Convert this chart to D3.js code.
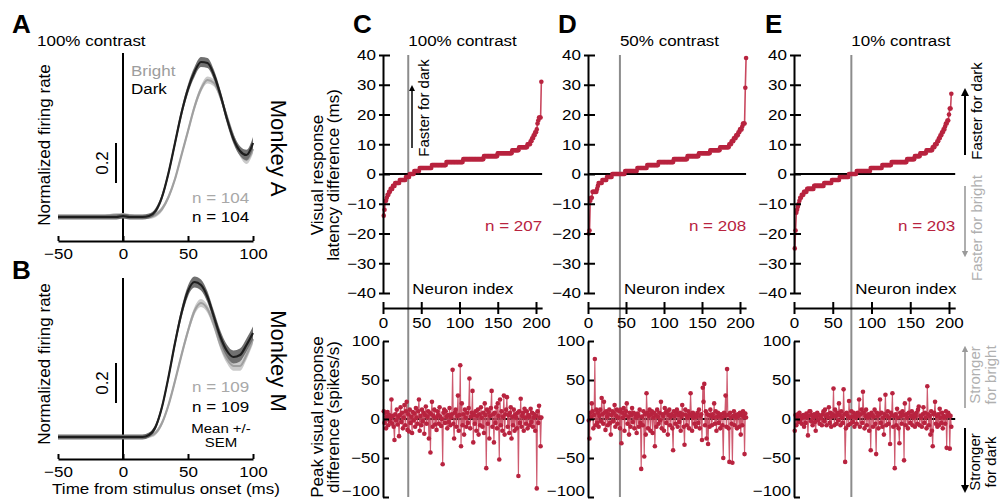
<!DOCTYPE html>
<html><head><meta charset="utf-8">
<script src="https://cdn.jsdelivr.net/npm/d3@7"></script>
<style>body{margin:0;background:#fff} svg{display:block;background:#fff} text{font-family:'Liberation Sans',Arial,Helvetica,sans-serif}</style>
</head><body><svg id="c" width="1000" height="502"></svg>
<script>
// ---------- DATA ----------
const timeMs = [-50,-45,-40,-35,-30,-25,-20,-15,-10,-5,0,5,10,15,20,25,30,35,40,45,50,55,60,65,70,75,80,85,90,95,100];
const darkA   = [0,0,0,0,0,0,0,0,0,0,0.005,0,0, 0,0.005,0.03,0.1,0.22,0.37,0.52,0.64,0.725,0.775,0.77,0.71,0.61,0.49,0.39,0.33,0.31,0.37];
const brightA = [0,0,0,0,0,0,0,0,0.005,0.01,0.01,0.005,0, 0,0,0.01,0.04,0.1,0.19,0.31,0.43,0.55,0.64,0.685,0.67,0.6,0.5,0.4,0.32,0.285,0.34];
const semDarkA   = [0.012,0.012,0.012,0.012,0.012,0.012,0.012,0.012,0.012,0.012,0.012,0.012,0.012,0.012,0.012,0.014,0.016,0.018,0.02,0.022,0.024,0.025,0.025,0.025,0.025,0.024,0.024,0.024,0.024,0.026,0.03];
const semBrightA = [0.01,0.01,0.01,0.01,0.01,0.01,0.01,0.01,0.01,0.01,0.01,0.01,0.01,0.01,0.01,0.011,0.012,0.013,0.014,0.015,0.016,0.017,0.017,0.017,0.017,0.017,0.017,0.017,0.018,0.02,0.022];
const darkB   = [0,0,0,0,0,0,0,0,0,0,0,0,0, 0,0.01,0.05,0.15,0.3,0.47,0.62,0.73,0.775,0.76,0.7,0.6,0.5,0.43,0.4,0.41,0.46,0.52];
const brightB = [0,0,0,0,0,0,0,0,0,0,0,0,0, 0,0.005,0.02,0.07,0.16,0.28,0.41,0.53,0.63,0.67,0.64,0.56,0.46,0.39,0.355,0.355,0.41,0.49];
const semDarkB   = [0.012,0.012,0.012,0.012,0.012,0.012,0.012,0.012,0.012,0.012,0.012,0.012,0.012,0.012,0.012,0.014,0.016,0.019,0.022,0.025,0.027,0.028,0.028,0.028,0.029,0.03,0.031,0.032,0.032,0.032,0.033];
const semBrightB = [0.01,0.01,0.01,0.01,0.01,0.01,0.01,0.01,0.01,0.01,0.01,0.01,0.01,0.01,0.01,0.011,0.012,0.014,0.016,0.018,0.019,0.02,0.02,0.02,0.021,0.022,0.023,0.024,0.024,0.024,0.025];
const timeTicks = [-50,0,50,100];

// sorted latency differences (dark minus bright), ms
const latency100 = [-14,-12,-9,-9,-8,-7,-7,-6,-6,-5,-5,-5,-4,-4,-4,-3,-3,-3,-3,-3,-3,
 -2,-2,-2,-2,-2,-2,-2,-2, -1,-1,-1,-1,-1, 0,0,0,0,0,0, 1,1,1,1,1,1,1,
 2,2,2,2,2, 2,2,2,2,2, 2,2,2,2,2, 2,
 3,3,3,3,3, 3,3,3,3,3, 3,3,3,3,3, 3,3,3,3,
 4,4,4,4,4, 4,4,4,4,4, 4,4,4,4,4, 4,4,4,4,4, 4,4,
 5,5,5,5,5, 5,5,5,5,5, 5,5,5,5,5, 5,5,5,5,5, 5,5,5,5,5, 5,5,
 6,6,6,6,6, 6,6,6,6,6, 6,6,6,6,6, 6,6,6,
 7,7,7,7,7, 7,7,7,7,7, 7,7,7,7,7, 7,7,7,7,
 8,8,8,8,8, 8,8,8,8,
 9,9,9,9,9, 9,9,9,9,9, 9,
 10,10,10,10, 11,11,12,12,13,13,14,14,15,17,18,19,19,19,31];
const latency50 = [-20,-19,-9,-8,-8,-6,-6,-6,-6,-6,-6,-5,-4,-3,-3,-3,-3,-3,
 -2,-2,-2,-2,-2,-2, -1,-1,-1,-1,-1,-1,-1,
 0,0,0,0,0, 0,0,0,0,0, 0,0,0,0,0, 0,0,
 1,1,1,1,1, 1,1,1,1,1, 1,1,1,1,1, 1,
 2,2,2,2,2, 2,2,2,2,2, 2,2,2,
 3,3,3,3,3, 3,3,3,3,3, 3,3,3,3,3,
 4,4,4,4,4, 4,4,4,4,4, 4,4,4,4,4, 4,4,4,4,4,
 5,5,5,5,5, 5,5,5,5,5, 5,5,5,5,5, 5,5,5,
 6,6,6,6,6, 6,6,6,6,6, 6,6,6,6,6,
 7,7,7,7,7, 7,7,7,7,7, 7,7,7,7,7,
 8,8,8,8,8, 8,8,8,8,8, 8,8,8,
 9,9,9,9,9, 9,9,9,9,9, 9,9,
 10,10,10,11,11,11,12,12,12,13,13,13,14,14,15,15,15,16,17,17,17,29,39];
const latency10 = [-25,-19,-13,-12,-11,-10,-9,-8,-8,-7,-7,-7,-6,-6,-6,-6,
 -5,-5,-5,-5,-5, -5,-5,-5,-5,
 -4,-4,-4,-4,-4, -4,-4,-4,-4,-4, -4,-4,-4,
 -3,-3,-3,-3,-3, -3,-3,-3,-3,-3,
 -2,-2,-2,-2,-2, -2,-2,-2,-2,-2,
 -1,-1,-1,-1,-1, -1,-1,-1,-1,-1, -1,-1,
 0,0,0,0,0, 0,0,0,0,0,
 1,1,1,1,1, 1,1,1,1,1, 1,1,1,1,1, 1,1,1,
 2,2,2,2,2, 2,2,2,2,2, 2,2,2,2,2,
 3,3,3,3,3, 3,3,3,3,3, 3,3,
 4,4,4,4,4, 4,4,4,4,4, 4,4,4,4,4, 4,4,4,4,4,
 5,5,5,5,5, 5,5,5,5,5,
 6,6,6,6,6, 6,6,
 7,7,7,7,7, 7,7,7,
 8,8,8,8,8, 8,8,8,
 9,9,9,10,10,10,11,11,12,12,13,13,14,14,15,15,16,17,17,18,18,20,22,22,27];

// peak visual response difference (spikes/s), same neuron order
const peak100 = [10,-5,8,-12,3,9,-8,5,-3,2,25,-6,4,-10,-27,6,-2,12,-7,3,
 -22,5,15,-4,8,-12,2,18,-8,10,22,-14,6,-16,12,-5,3,-18,9,-2,
 7,-10,14,2,-6,10,25,-15,4,-8,12,-3,8,-19,5,16,-6,3,10,-25,
 8,-43,6,22,-10,4,12,-7,2,-14,10,5,-6,15,3,-9,0,-58,8,12,
 -5,10,3,-12,5,-4,14,-8,2,6,63,-6,-25,8,12,-10,4,30,-15,5,
 69,-35,20,-8,6,-20,12,2,-10,8,-5,14,52,-12,3,8,36,-30,5,-6,
 10,-15,4,12,-20,6,-8,15,2,-10,8,-18,20,5,-63,12,-6,9,-25,4,
 14,36,-10,6,-30,8,-5,15,-12,20,4,-52,25,-8,10,-15,3,30,-20,6,
 12,28,-10,5,-18,8,15,-25,3,-8,12,-15,6,2,-12,8,-73,10,-5,26,
 -10,4,8,-15,13,2,-6,10,-12,5,3,-8,13,-4,8,-10,2,6,-15,4,
 -89,10,-5,17,2,-35,2];
const peak50 = [-2,-25,8,3,20,10,-12,5,77,-8,12,-5,8,-10,4,12,-3,27,6,-6,
 22,8,-14,10,3,-8,6,12,-5,-20,5,10,-3,8,18,-10,4,12,-6,2,
 10,-12,12,-31,8,2,14,-15,5,10,20,-6,3,-20,8,-10,5,14,-4,8,
 -12,6,2,-18,7,4,-10,12,-5,-64,3,-8,10,-48,6,-20,33,8,-12,4,
 12,-15,6,10,-18,2,8,-35,5,-10,12,3,-6,8,-2,22,-12,6,4,-15,
 14,8,-5,10,-20,5,12,-8,3,6,-12,-40,10,4,-6,8,12,-10,5,-4,
 8,-15,3,18,6,-10,-33,12,5,-8,2,10,-12,6,33,4,-15,8,2,-6,
 5,-10,3,8,-5,12,-12,4,6,-27,40,22,45,-8,10,-25,6,-32,5,-10,
 12,4,-8,6,2,20,-6,10,-15,3,8,-5,4,-12,6,2,-8,-50,8,4,
 30,-10,64,5,-12,-55,8,2,-6,-56,4,10,-8,5,2,-12,6,4,-10,8,
 -20,5,-8,10,3,-45,7,2];
const peak10 = [-15,5,-8,3,6,-4,8,-2,4,-6,2,5,-10,3,-5,7,2,-21,4,10,
 10,-3,5,-8,2,6,-4,-15,3,8,-2,5,-6,4,1,-8,6,10,-3,12,
 4,-8,6,2,15,-5,8,-10,3,6,39,-8,12,4,-6,8,-2,20,5,-8,
 10,2,-5,38,6,-55,-12,8,4,-8,23,2,-6,10,3,-4,8,-10,5,2,
 -6,8,4,25,-10,6,12,-5,35,8,-12,4,12,-8,2,6,-15,4,-40,8,
 5,-10,3,12,-6,-45,8,4,-12,6,25,-5,8,-10,2,-20,6,31,-8,4,
 10,-6,2,-32,8,5,33,-10,4,-63,6,-8,13,2,-12,-31,8,4,-6,10,
 5,-53,20,-8,6,2,-12,8,25,-5,4,10,-8,2,6,-10,4,8,-6,12,
 16,-8,4,2,-10,6,15,-5,8,2,-12,42,6,-8,4,-20,10,-15,-35,6,
 8,22,-6,4,-10,6,-8,13,2,-5,8,-12,4,2,-6,10,-37,4,8,5,
 -38,4,-10];

const latTicks = [-40,-30,-20,-10,0,10,20,30,40];
const peakTicks = [-100,-50,0,50,100];
const indexTicks = [0,50,100,150,200];
const medianIndex = [33, 42, 74];

// ---------- DRAWING ----------
const svg = d3.select("#c");
const SQ = 0.88;
const RED = "#b8233f", RED_LINE = "#c9485f", GRAY_LINE = "#8c8c8c";

function htext(x, y, str, o = {}) {
  const t = svg.append("text")
    .attr("transform", `translate(${x},${y}) scale(1,${o.sq ?? SQ})`)
    .attr("font-size", o.size || 17)
    .attr("text-anchor", o.anchor || "start")
    .attr("fill", o.fill || "#000")
    .text(str);
  if (o.weight) t.attr("font-weight", o.weight);
  return t;
}
function vtext(x, y, lines, o = {}) {
  const t = svg.append("text")
    .attr("transform", `translate(${x},${y}) rotate(${o.rot ?? -90})`)
    .attr("font-size", o.size || 17)
    .attr("text-anchor", "middle")
    .attr("fill", o.fill || "#000");
  lines.forEach((s, i) => t.append("tspan").attr("x", 0).attr("y", i * (o.lh || 16)).text(s));
  return t;
}
function squishTicks(g) {
  g.selectAll(".tick text").each(function () {
    const t = d3.select(this);
    const xx = +t.attr("x") || 0, yy = +t.attr("y") || 0;
    t.attr("x", 0).attr("y", 0).attr("transform", `translate(${xx},${yy}) scale(1,${SQ})`);
  });
}
function styleAxis(g, size) {
  g.selectAll("path.domain").attr("stroke", "#000").attr("stroke-width", 2);
  g.selectAll(".tick line").attr("stroke", "#000").attr("stroke-width", 2);
  g.selectAll(".tick text").attr("font-size", size || 17).attr("fill", "#000")
    .attr("font-family", "'Liberation Sans',Arial,sans-serif");
  squishTicks(g);
}

// defs arrows
const defs = svg.append("defs");
function marker(id, color) {
  defs.append("marker").attr("id", id).attr("viewBox", "0 0 10 10").attr("refX", 5).attr("refY", 5)
    .attr("markerWidth", 4).attr("markerHeight", 5).attr("orient", "auto-start-reverse")
    .attr("markerUnits", "strokeWidth")
    .append("path").attr("d", "M0,0 L10,5 L0,10 z").attr("fill", color);
}
marker("arrK", "#000"); marker("arrG", "#9a9a9a");

// ---- Panels A & B ----
function tracePanel(yBase, axisY, lineTop, dark, bright, semD, semB) {
  const x = d3.scaleLinear().domain([-50, 100]).range([58, 253]);
  const y = d3.scaleLinear().domain([0, 1]).range([yBase, yBase - 200]);
  svg.append("line").attr("x1", x(0)).attr("x2", x(0)).attr("y1", lineTop).attr("y2", axisY)
    .attr("stroke", "#000").attr("stroke-width", 2);
  const band = (vals, sem) => d3.area().curve(d3.curveMonotoneX)
    .x((d, i) => x(timeMs[i])).y0((d, i) => y(vals[i] - sem[i])).y1((d, i) => y(vals[i] + sem[i]))(vals);
  const line = vals => d3.line().curve(d3.curveMonotoneX).x((d, i) => x(timeMs[i])).y(d => y(d))(vals);
  svg.append("path").attr("d", band(bright, semB)).attr("fill", "#cbcbcb");
  svg.append("path").attr("d", line(bright)).attr("fill", "none").attr("stroke", "#a0a0a0").attr("stroke-width", 2.2);
  svg.append("path").attr("d", band(dark, semD)).attr("fill", "#707070");
  svg.append("path").attr("d", line(dark)).attr("fill", "none").attr("stroke", "#1e1e1e").attr("stroke-width", 2.2);
  const ax = svg.append("g").attr("transform", `translate(0,${axisY})`)
    .call(d3.axisBottom(x).tickValues(timeTicks).tickSize(-5).tickSizeOuter(0).tickPadding(7));
  styleAxis(ax);
  // 0.2 scale bar
  svg.append("line").attr("x1", x(-5.4)).attr("x2", x(-5.4)).attr("y1", y(0.17)).attr("y2", y(0.37))
    .attr("stroke", "#000").attr("stroke-width", 2);
  vtext(x(-5.4) - 8, y(0.27), ["0.2"]);
}
tracePanel(217, 241, 53, darkA, brightA, semDarkA, semBrightA);
tracePanel(437, 459, 278, darkB, brightB, semDarkB, semBrightB);

htext(12, 33, "A", { size: 26, weight: "bold", sq: 1 });
htext(12, 279, "B", { size: 26, weight: "bold", sq: 1 });
htext(37, 46, "100% contrast");
htext(131, 76, "Bright", { fill: "#9d9d9d" });
htext(131, 94, "Dark");
htext(192, 203, "n = 104", { fill: "#a8a8a8" });
htext(192, 222, "n = 104");
htext(192, 392, "n = 109", { fill: "#a8a8a8" });
htext(192, 412, "n = 109");
htext(221, 433, "Mean +/-", { size: 15, anchor: "middle" });
htext(221, 447, "SEM", { size: 15, anchor: "middle" });
vtext(50, 145, ["Normalized firing rate"]);
vtext(50, 364, ["Normalized firing rate"]);
vtext(271, 148, ["Monkey A"], { rot: 90, size: 22 });
vtext(271, 361, ["Monkey M"], { rot: 90, size: 22 });
htext(166, 494, "Time from stimulus onset (ms)", { anchor: "middle" });

// ---- Panels C, D, E ----
function latPanel(x0, x200, lat, peak, medIdx, letter, letterX, title, nLabel) {
  const x = d3.scaleLinear().domain([0, 200]).range([x0, x200]);
  const xa = d3.scaleLinear().domain([0, 208]).range([x0, x(208)]);
  const yT = d3.scaleLinear().domain([-40, 40]).range([293, 55]);
  const yB = d3.scaleLinear().domain([-100, 100]).range([497, 341]);
  // median line
  svg.append("line").attr("x1", x(medIdx)).attr("x2", x(medIdx)).attr("y1", 55).attr("y2", 497)
    .attr("stroke", GRAY_LINE).attr("stroke-width", 2);
  // zero lines
  svg.append("line").attr("x1", x(0)).attr("x2", x(208)).attr("y1", yT(0)).attr("y2", yT(0)).attr("stroke", "#000").attr("stroke-width", 2);
  svg.append("line").attr("x1", x(0)).attr("x2", x(208)).attr("y1", yB(0)).attr("y2", yB(0)).attr("stroke", "#000").attr("stroke-width", 2);
  // latency
  const lT = d3.line().x((d, i) => x(i + 1)).y(d => yT(d));
  svg.append("path").attr("d", lT(lat)).attr("fill", "none").attr("stroke", RED_LINE).attr("stroke-width", 1.6);
  svg.append("g").selectAll("circle").data(lat).join("circle")
    .attr("cx", (d, i) => x(i + 1)).attr("cy", d => yT(d)).attr("r", 2.3).attr("fill", RED);
  // peak
  const lB = d3.line().x((d, i) => x(i + 1)).y(d => yB(d));
  svg.append("path").attr("d", lB(peak)).attr("fill", "none").attr("stroke", RED_LINE).attr("stroke-width", 1.1).attr("opacity", 0.9);
  svg.append("g").selectAll("circle").data(peak).join("circle")
    .attr("cx", (d, i) => x(i + 1)).attr("cy", d => yB(d)).attr("r", 2.3).attr("fill", RED);
  // axes
  const ay = svg.append("g").attr("transform", `translate(${x0},0)`)
    .call(d3.axisLeft(yT).tickValues(latTicks).tickSize(4).tickSizeOuter(0).tickPadding(3));
  ay.selectAll(".tick line").attr("x1", 7);
  styleAxis(ay);
  const ax = svg.append("g").attr("transform", `translate(0,308)`)
    .call(d3.axisBottom(xa).tickValues(indexTicks).tickSize(6).tickSizeOuter(0).tickPadding(3));
  ax.selectAll(".tick line").attr("y1", -6);
  styleAxis(ax);
  const ab = svg.append("g").attr("transform", `translate(${x0},0)`)
    .call(d3.axisLeft(yB).tickValues(peakTicks).tickSize(-6).tickSizeOuter(0).tickPadding(3));
  styleAxis(ab);
  // keep the lowest label inside the picture
  ab.selectAll(".tick").filter(d => d === -100).select("text")
    .attr("transform", function () { return d3.select(this).attr("transform").replace("translate(-3,0)", "translate(-3,-6)"); });
  // text
  htext(letterX, 33, letter, { size: 26, weight: "bold", sq: 1 });
  htext(x(medIdx), 46, title);
  htext(x(medIdx) + 4, 294, "Neuron index");
  htext(x(208), 231, nLabel, { anchor: "end", fill: RED });
}
latPanel(383, 536, latency100, peak100, medianIndex[0], "C", 353, "100% contrast", "n = 207");
latPanel(588, 740, latency50, peak50, medianIndex[1], "D", 558, "50% contrast", "n = 208");
latPanel(794, 949, latency10, peak10, medianIndex[2], "E", 765, "10% contrast", "n = 203");

// y labels for C
vtext(323, 175, ["Visual response", "latency difference (ms)"]);
vtext(323, 417, ["Peak visual response", "difference (spikes/s)"]);

// C annotation
svg.append("line").attr("x1", 412).attr("x2", 412).attr("y1", 148).attr("y2", 88)
  .attr("stroke", "#000").attr("stroke-width", 1.5).attr("marker-end", "url(#arrK)");
vtext(429, 108, ["Faster for dark"], { size: 15 });

// right-side annotations
svg.append("line").attr("x1", 965).attr("x2", 965).attr("y1", 155).attr("y2", 92)
  .attr("stroke", "#000").attr("stroke-width", 2).attr("marker-end", "url(#arrK)");
vtext(982, 111, ["Faster for dark"], { size: 15 });
svg.append("line").attr("x1", 965).attr("x2", 965).attr("y1", 186).attr("y2", 254)
  .attr("stroke", "#9a9a9a").attr("stroke-width", 1.6).attr("marker-end", "url(#arrG)");
vtext(982, 228, ["Faster for bright"], { size: 15, fill: "#b0b0b0" });
svg.append("line").attr("x1", 965).attr("x2", 965).attr("y1", 408).attr("y2", 349)
  .attr("stroke", "#9a9a9a").attr("stroke-width", 1.6).attr("marker-end", "url(#arrG)");
vtext(980, 375, ["Stronger", "for bright"], { size: 15, fill: "#b0b0b0" });
svg.append("line").attr("x1", 965).attr("x2", 965).attr("y1", 428).attr("y2", 489)
  .attr("stroke", "#000").attr("stroke-width", 2).attr("marker-end", "url(#arrK)");
vtext(980, 462, ["Stronger", "for dark"], { size: 15 });
</script></body></html>
